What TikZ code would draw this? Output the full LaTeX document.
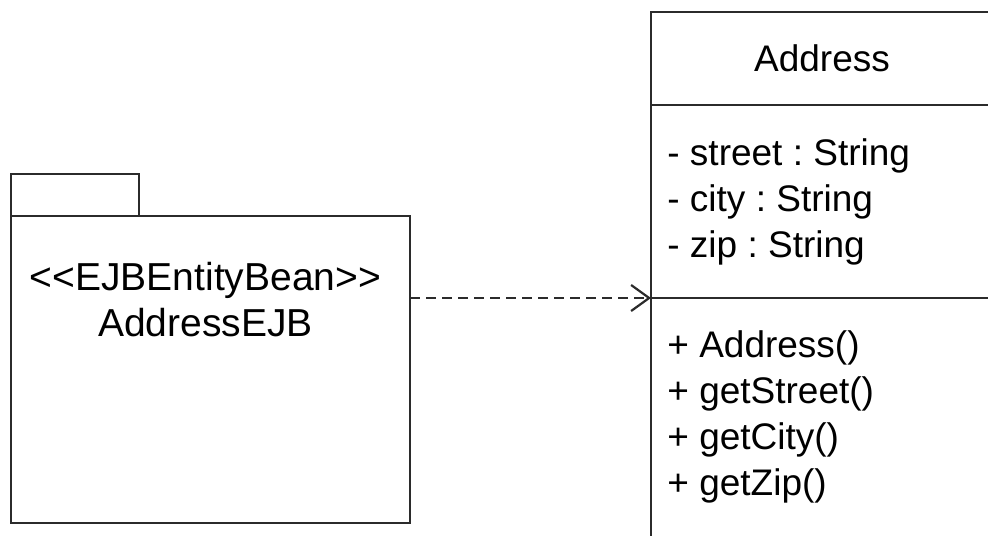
\documentclass[tikz,border=0pt]{standalone}
\usepackage{fontspec}
\setmainfont{Liberation Sans}
\usetikzlibrary{arrows.meta,positioning}
\definecolor{UL}{HTML}{2B2B2B}
\frenchspacing
\tikzset{
  umlbox/.style={draw=UL, line width=1.3pt, rectangle, inner sep=0pt, outer sep=0pt},
  umltext/.style={inner sep=0pt, font=\fontsize{18.5}{23}\selectfont, text=black},
  dep/.style={draw=UL, line width=1.1pt, dash pattern=on 5pt off 3pt,
              -{Straight Barb[length=9pt,width=13pt,line width=1.1pt]}}
}

\begin{document}
\begin{tikzpicture}[x=0.5pt,y=-0.5pt]
    \clip (0,0) rectangle (988,535);
    % package
    \node[umlbox, minimum width=199.5pt, minimum height=153.5pt] (pkgbody) at (210.5,369.5) {};
    \node[umlbox, anchor=south west, minimum width=64pt, minimum height=21pt] (pkgtab) at (pkgbody.north west) {};
    \node[umltext, font=\fontsize{19.5}{23}\selectfont, align=center] (pkglabel)
      at ([xshift=-2.5pt,yshift=-42pt]pkgbody.north)
      {<{}<EJBEntityBean>{}>\\AddressEJB};
    % class
    \node[umlbox, umltext, minimum width=171pt, minimum height=46.5pt] (clsname) at (822,58.5) {Address};
    \node[umlbox, minimum width=171pt, minimum height=96.5pt, below=0pt of clsname] (clsattr) {};
    \node[umlbox, minimum width=171pt, minimum height=130pt, below=0pt of clsattr] (clsmeth) {};
    \node[umltext, anchor=west, align=left] (attrs) at ([xshift=8pt]clsattr.west)
      {- street : String\\- city : String\\- zip : String};
    \node[umltext, anchor=north west, align=left] (meths) at ([xshift=8pt,yshift=-16pt]clsmeth.north west)
      {+ Address()\\+ getStreet()\\+ getCity()\\+ getZip()};
    % dependency
    \draw[dep] (pkgbody.east |- clsmeth.north west) -- (clsmeth.north west);
\end{tikzpicture}
\end{document}
